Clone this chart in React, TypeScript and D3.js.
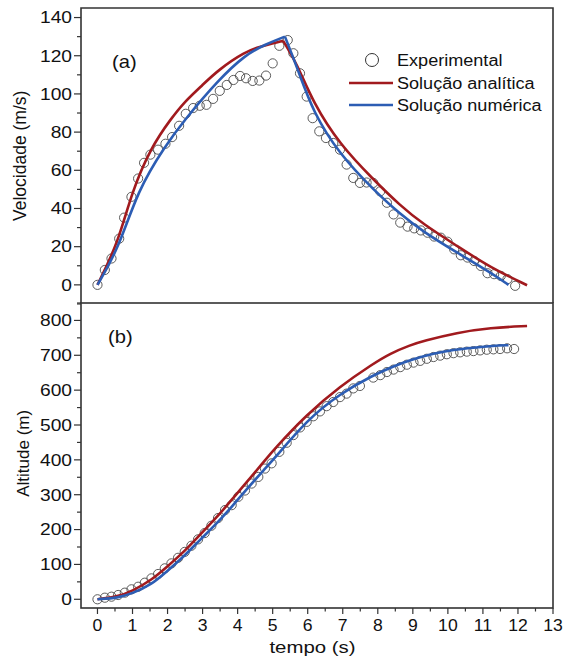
import React from 'react';
import * as d3 from 'd3';

// (a) velocidade
const tVelExp = [0, 0.21, 0.4, 0.62, 0.76, 0.97, 1.16, 1.33, 1.51, 1.73, 1.94, 2.13, 2.33, 2.52, 2.73, 2.92, 3.11, 3.3, 3.49, 3.69, 3.88, 4.07, 4.24, 4.43, 4.62, 4.81, 5.0, 5.19, 5.43, 5.59, 5.78, 5.97, 6.14, 6.33, 6.52, 6.73, 6.92, 7.11, 7.3, 7.49, 7.68, 7.87, 8.07, 8.26, 8.45, 8.64, 8.85, 9.04, 9.23, 9.42, 9.61, 9.8, 9.99, 10.18, 10.37, 10.56, 10.75, 10.94, 11.13, 11.32, 11.51, 11.7, 11.92];
const vVelExp = [0, 7.8, 13.8, 24.2, 35.2, 46.1, 55.7, 63.9, 68.2, 70.8, 73.9, 77.4, 83.3, 89.6, 92.6, 93.8, 94.3, 97.4, 101.6, 104.7, 107.3, 109.4, 108.2, 106.8, 107, 109.6, 116, 125.2, 128.2, 121.3, 110.8, 98.6, 87.3, 80.4, 76.9, 74.3, 70.8, 63, 56, 53.4, 53.6, 53.4, 49, 43, 36.9, 32.6, 30.5, 29.6, 28.5, 27.3, 25.3, 24.7, 22.6, 18.6, 15.5, 14.3, 12.5, 9.9, 6.1, 5.6, 4.7, 3.0, -0.5];

const tVelAna = [0, 0.59, 0.97, 1.54, 2.11, 2.49, 3.0, 3.45, 4.21, 4.64, 5.0, 5.3, 5.69, 6.16, 6.92, 7.87, 8.64, 9.3, 10.26, 11.21, 12.26];
const vVelAna = [0, 22.1, 48.2, 72.5, 87.3, 96, 104.7, 112.6, 122.1, 124.7, 126.5, 127.8, 116, 95.2, 73.4, 55.2, 41.5, 31.7, 20.4, 9.1, -0.2];

const tVelNum = [0, 0.59, 1.16, 1.92, 2.49, 3.45, 4.21, 4.8, 5.35, 5.69, 6.16, 6.92, 7.87, 8.64, 9.3, 10.26, 11.21, 11.73];
const vVelNum = [0, 18.6, 49.9, 72.5, 86.5, 107.3, 120.4, 126, 130, 114.3, 90, 68.2, 49.9, 37, 27.8, 16.9, 6.5, 0];

// (b) altitude
const tAltExp = [0, 0.21, 0.4, 0.59, 0.78, 0.97, 1.16, 1.35, 1.54, 1.73, 1.92, 2.11, 2.3, 2.49, 2.68, 2.87, 3.06, 3.25, 3.44, 3.64, 3.83, 4.02, 4.21, 4.4, 4.59, 4.78, 4.97, 5.19, 5.4, 5.59, 5.78, 5.97, 6.16, 6.35, 6.54, 6.73, 6.92, 7.11, 7.3, 7.49, 7.87, 8.07, 8.26, 8.45, 8.64, 8.83, 9.02, 9.21, 9.4, 9.59, 9.78, 9.97, 10.16, 10.35, 10.54, 10.73, 10.92, 11.11, 11.3, 11.49, 11.69, 11.89];
const hAltExp = [0, 4.6, 7.5, 12.3, 19, 28.6, 36, 47.6, 60, 72.5, 88.8, 103, 119, 136, 153.6, 171.9, 190, 211, 233, 256, 270, 294, 312, 332, 351, 375, 390, 423, 449, 471, 493, 509, 525, 539, 554, 566, 580, 590, 605, 612, 636, 643, 652, 659, 666, 673, 679, 684, 690, 695, 699, 703, 706, 708.5, 710.5, 712, 714, 716, 717, 718, 720, 718];

const tAltAna = [0, 0.59, 1.0, 1.54, 1.97, 2.49, 2.92, 3.45, 3.87, 4.07, 4.78, 5.02, 5.97, 6.92, 7.87, 8.35, 8.92, 9.3, 10.26, 11.21, 12.26];
const hAltAna = [0, 8, 24, 55, 92, 138, 185, 240, 290, 314, 398, 428, 530, 611, 676, 705, 729, 741, 765, 779, 784];

const tAltNum = [0, 0.59, 1.0, 1.54, 1.97, 2.49, 2.92, 3.45, 3.87, 4.26, 4.78, 5.02, 5.97, 6.92, 7.87, 8.45, 9.02, 9.59, 10.16, 10.73, 11.3, 11.73];
const hAltNum = [0, 4, 17, 42, 79, 125, 170, 222, 270, 316, 375, 400, 514, 590, 643, 669, 689, 705, 716, 722, 727, 729];

const velTicks = [0, 20, 40, 60, 80, 100, 120, 140];
const altTicks = [0, 100, 200, 300, 400, 500, 600, 700, 800];
const timeTicks = [0, 1, 2, 3, 4, 5, 6, 7, 8, 9, 10, 11, 12, 13];

const legendItems = ['Experimental', 'Solução analítica', 'Solução numérica'];

const RED = '#a11a1e';
const BLUE = '#2c5db4';
const FRAME = '#333';
const FONT = '"Liberation Sans", Arial, sans-serif';

const L = 81, R = 553, TOP = 8, MID = 303, BOT = 608;

const x = d3.scaleLinear().domain([-0.47, 13]).range([L, R]);
const yV = d3.scaleLinear().domain([-9.5, 145]).range([MID, TOP]);
const yA = d3.scaleLinear().domain([-25, 850]).range([BOT, MID]);

const zip = (ts: number[], vs: number[]) => ts.map((t, i) => [t, vs[i]] as [number, number]);

// split at the peak so the cusp stays sharp
const pathsFor = (ts: number[], vs: number[], y: d3.ScaleLinear<number, number>, split: boolean) => {
  const pts = zip(ts, vs);
  const line = d3.line<[number, number]>().x(d => x(d[0])).y(d => y(d[1])).curve(d3.curveBasis);
  if (!split) return [line(pts) as string];
  const k = d3.maxIndex(vs);
  return [line(pts.slice(0, k + 1)) as string, line(pts.slice(k)) as string];
};

const Txt = ({ x, y, sx = 1, size = 16, anchor = 'start', rot = 0, children }:
  { x: number; y: number; sx?: number; size?: number; anchor?: string; rot?: number; children: React.ReactNode }) => (
  <text
    transform={`translate(${x},${y}) rotate(${rot}) scale(${sx},1)`}
    fontSize={size}
    fontFamily={FONT}
    textAnchor={anchor as any}
    fill="#111"
  >
    {children}
  </text>
);

export default function App() {
  const velMinor = d3.range(-10, 145, 20);
  const altMinor = d3.range(50, 851, 100);
  const timeMinor = d3.range(0.5, 13, 1);

  const curves = [
    { ts: tVelAna, vs: vVelAna, y: yV, split: true, color: RED },
    { ts: tVelNum, vs: vVelNum, y: yV, split: true, color: BLUE },
    { ts: tAltAna, vs: hAltAna, y: yA, split: false, color: RED },
    { ts: tAltNum, vs: hAltNum, y: yA, split: false, color: BLUE },
  ];

  return (
    <svg width={563} height={659} style={{ position: 'absolute', left: 0, top: 0, background: '#fff' }}>
      <rect width={563} height={659} fill="#fff" />

      {/* experimental points */}
      <g fill="none" stroke="#4a4a4a" strokeWidth={0.9}>
        {zip(tVelExp, vVelExp).map((d, i) => (
          <circle key={'v' + i} cx={x(d[0])} cy={yV(d[1])} r={4.6} />
        ))}
        {zip(tAltExp, hAltExp).map((d, i) => (
          <circle key={'a' + i} cx={x(d[0])} cy={yA(d[1])} r={4.6} />
        ))}
      </g>

      {/* model curves */}
      <g fill="none" strokeWidth={2.6} strokeLinejoin="miter" strokeLinecap="butt">
        {curves.map((c, i) =>
          pathsFor(c.ts, c.vs, c.y, c.split).map((p, j) => (
            <path key={i + '-' + j} d={p} stroke={c.color} />
          ))
        )}
      </g>

      {/* frames */}
      <g fill="none" stroke={FRAME} strokeWidth={1.6}>
        <path d={`M${L},${MID}V${TOP}H${R}V${MID}`} />
        <rect x={L} y={MID} width={R - L} height={BOT - MID} />
      </g>

      {/* ticks */}
      <g stroke={FRAME} strokeWidth={1.2}>
        {velTicks.map(v => <line key={'vt' + v} x1={L} x2={L - 7} y1={yV(v)} y2={yV(v)} />)}
        {velMinor.map(v => <line key={'vm' + v} x1={L} x2={L - 4} y1={yV(v)} y2={yV(v)} />)}
        {altTicks.map(v => <line key={'at' + v} x1={L} x2={L - 7} y1={yA(v)} y2={yA(v)} />)}
        {altMinor.map(v => <line key={'am' + v} x1={L} x2={L - 4} y1={yA(v)} y2={yA(v)} />)}
        {timeTicks.map(t => <line key={'tt' + t} x1={x(t)} x2={x(t)} y1={BOT} y2={BOT + 6} />)}
        {timeMinor.map(t => <line key={'tm' + t} x1={x(t)} x2={x(t)} y1={BOT} y2={BOT + 3.5} />)}
      </g>

      {velTicks.map(v => (
        <Txt key={'vl' + v} x={72} y={yV(v) + 5.8} sx={1.2} anchor="end">{v}</Txt>
      ))}
      {altTicks.map(v => (
        <Txt key={'al' + v} x={72} y={yA(v) + 5.8} sx={1.2} anchor="end">{v}</Txt>
      ))}
      {timeTicks.map(t => (
        <Txt key={'tl' + t} x={x(t)} y={631} sx={1.1} anchor="middle">{t}</Txt>
      ))}

      <Txt x={312.5} y={653} size={17} sx={1.2} anchor="middle">tempo (s)</Txt>
      <Txt x={25.5} y={155.8} size={17.5} anchor="middle" rot={-90}>Velocidade (m/s)</Txt>
      <Txt x={28.5} y={453.3} size={17} anchor="middle" rot={-90}>Altitude (m)</Txt>

      <Txt x={112} y={68} size={18} sx={1.12}>(a)</Txt>
      <Txt x={108} y={343} size={18} sx={1.12}>(b)</Txt>

      {/* legend */}
      <circle cx={372} cy={60} r={6.5} fill="none" stroke="#333" strokeWidth={1} />
      <line x1={349} x2={393} y1={83} y2={83} stroke={RED} strokeWidth={2.6} />
      <line x1={349} x2={393} y1={105} y2={105} stroke={BLUE} strokeWidth={2.6} />
      {legendItems.map((s, i) => (
        <Txt key={s} x={397} y={66 + i * 22.5} sx={1.13}>{s}</Txt>
      ))}
    </svg>
  );
}
